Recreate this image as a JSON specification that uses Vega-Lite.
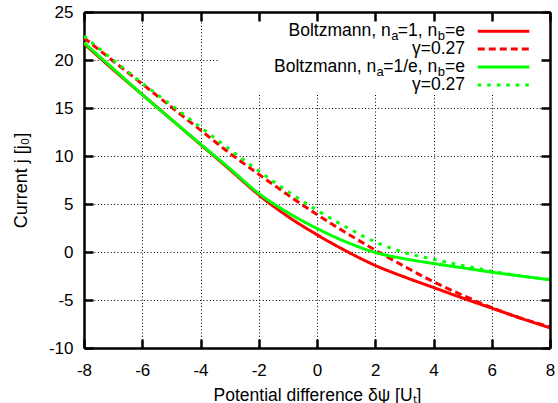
{
  "$schema": "https://vega.github.io/schema/vega-lite/v6.json",
  "width": 466,
  "height": 336,
  "autosize": {"type": "none"},
  "padding": {"left": 84, "top": 12, "right": 8, "bottom": 55},
  "background": "white",
  "config": {
    "view": {"stroke": null},
    "font": "Liberation Sans",
    "axis": {
      "domainColor": "#000",
      "domainWidth": 2.5,
      "tickColor": "#000",
      "tickWidth": 2.5,
      "tickSize": -9,
      "labelColor": "#000",
      "labelFont": "Liberation Sans",
      "labelFontSize": 17,
      "labelFlush": false,
      "labelOverlap": false,
      "titleColor": "#000",
      "titleFont": "Liberation Sans",
      "titleFontSize": 17.5,
      "titleFontWeight": "normal",
      "gridColor": "#000",
      "gridDash": [1, 2.3],
      "gridWidth": 1,
      "gridOpacity": 1
    }
  },
  "datasets": {
    "curves": [
      {"series": "Boltzmann na=1", "x": -8, "j": 21.7},
      {"series": "Boltzmann na=1", "x": -7, "j": 19.0},
      {"series": "Boltzmann na=1", "x": -6, "j": 16.4},
      {"series": "Boltzmann na=1", "x": -5, "j": 13.8},
      {"series": "Boltzmann na=1", "x": -4, "j": 11.2},
      {"series": "Boltzmann na=1", "x": -3, "j": 8.6},
      {"series": "Boltzmann na=1", "x": -2, "j": 5.95},
      {"series": "Boltzmann na=1", "x": -1, "j": 3.7},
      {"series": "Boltzmann na=1", "x": 0, "j": 1.8},
      {"series": "Boltzmann na=1", "x": 1, "j": 0.1},
      {"series": "Boltzmann na=1", "x": 2, "j": -1.4},
      {"series": "Boltzmann na=1", "x": 3, "j": -2.6},
      {"series": "Boltzmann na=1", "x": 4, "j": -3.7},
      {"series": "Boltzmann na=1", "x": 5, "j": -4.8},
      {"series": "Boltzmann na=1", "x": 6, "j": -5.85},
      {"series": "Boltzmann na=1", "x": 7, "j": -6.9},
      {"series": "Boltzmann na=1", "x": 8, "j": -7.9},
      {"series": "gamma na=1", "x": -8, "j": 22.3},
      {"series": "gamma na=1", "x": -7, "j": 19.9},
      {"series": "gamma na=1", "x": -6, "j": 17.5},
      {"series": "gamma na=1", "x": -5, "j": 15.1},
      {"series": "gamma na=1", "x": -4, "j": 12.7},
      {"series": "gamma na=1", "x": -3, "j": 10.3},
      {"series": "gamma na=1", "x": -2, "j": 8.1},
      {"series": "gamma na=1", "x": -1, "j": 5.95},
      {"series": "gamma na=1", "x": 0, "j": 3.9},
      {"series": "gamma na=1", "x": 1, "j": 2.0},
      {"series": "gamma na=1", "x": 2, "j": 0.2},
      {"series": "gamma na=1", "x": 3, "j": -1.5},
      {"series": "gamma na=1", "x": 4, "j": -3.1},
      {"series": "gamma na=1", "x": 5, "j": -4.5},
      {"series": "gamma na=1", "x": 6, "j": -5.8},
      {"series": "gamma na=1", "x": 7, "j": -6.9},
      {"series": "gamma na=1", "x": 8, "j": -7.8},
      {"series": "Boltzmann na=1/e", "x": -8, "j": 21.8},
      {"series": "Boltzmann na=1/e", "x": -7, "j": 19.1},
      {"series": "Boltzmann na=1/e", "x": -6, "j": 16.4},
      {"series": "Boltzmann na=1/e", "x": -5, "j": 13.8},
      {"series": "Boltzmann na=1/e", "x": -4, "j": 11.25},
      {"series": "Boltzmann na=1/e", "x": -3, "j": 8.7},
      {"series": "Boltzmann na=1/e", "x": -2, "j": 6.1},
      {"series": "Boltzmann na=1/e", "x": -1, "j": 4.1},
      {"series": "Boltzmann na=1/e", "x": 0, "j": 2.45},
      {"series": "Boltzmann na=1/e", "x": 1, "j": 1.05},
      {"series": "Boltzmann na=1/e", "x": 2, "j": -0.05},
      {"series": "Boltzmann na=1/e", "x": 3, "j": -0.7},
      {"series": "Boltzmann na=1/e", "x": 4, "j": -1.2},
      {"series": "Boltzmann na=1/e", "x": 5, "j": -1.65},
      {"series": "Boltzmann na=1/e", "x": 6, "j": -2.1},
      {"series": "Boltzmann na=1/e", "x": 7, "j": -2.5},
      {"series": "Boltzmann na=1/e", "x": 8, "j": -2.9},
      {"series": "gamma na=1/e", "x": -8, "j": 22.5},
      {"series": "gamma na=1/e", "x": -7, "j": 20.0},
      {"series": "gamma na=1/e", "x": -6, "j": 17.6},
      {"series": "gamma na=1/e", "x": -5, "j": 15.3},
      {"series": "gamma na=1/e", "x": -4, "j": 13.0},
      {"series": "gamma na=1/e", "x": -3, "j": 10.7},
      {"series": "gamma na=1/e", "x": -2, "j": 8.45},
      {"series": "gamma na=1/e", "x": -1, "j": 6.3},
      {"series": "gamma na=1/e", "x": 0, "j": 4.35},
      {"series": "gamma na=1/e", "x": 1, "j": 2.6},
      {"series": "gamma na=1/e", "x": 2, "j": 1.05},
      {"series": "gamma na=1/e", "x": 3, "j": -0.05},
      {"series": "gamma na=1/e", "x": 4, "j": -0.75},
      {"series": "gamma na=1/e", "x": 5, "j": -1.4},
      {"series": "gamma na=1/e", "x": 6, "j": -2.0},
      {"series": "gamma na=1/e", "x": 7, "j": -2.5},
      {"series": "gamma na=1/e", "x": 8, "j": -2.85}
    ]
  },
  "layer": [
    {
      "data": {"name": "curves"},
      "mark": {"type": "line", "strokeWidth": 3, "interpolate": "monotone", "clip": true, "strokeCap": "butt"},
      "encoding": {
        "x": {
          "field": "x", "type": "quantitative",
          "scale": {"domain": [-8, 8], "nice": false, "zero": false},
          "axis": {
            "orient": "bottom", "values": [-8, -6, -4, -2, 0, 2, 4, 6, 8],
            "labelExpr": "'' + datum.value", "grid": true, "zindex": 0,
            "labelPadding": 23, "title": "Potential difference δψ [Uₜ]", "titlePadding": 8
          }
        },
        "y": {
          "field": "j", "type": "quantitative",
          "scale": {"domain": [-10, 25], "nice": false, "zero": false},
          "axis": {
            "orient": "left", "values": [-10, -5, 0, 5, 10, 15, 20, 25],
            "labelExpr": "'' + datum.value", "grid": true, "zindex": 0,
            "labelPadding": 20, "title": "Current j [j₀]", "titlePadding": 18, "titleFontSize": 18
          }
        },
        "color": {
          "field": "series", "type": "nominal", "legend": null,
          "scale": {
            "domain": ["Boltzmann na=1", "gamma na=1", "Boltzmann na=1/e", "gamma na=1/e"],
            "range": ["#ff0000", "#ff0000", "#00ff00", "#00ff00"]
          }
        },
        "strokeDash": {
          "field": "series", "type": "nominal", "legend": null,
          "scale": {
            "domain": ["Boltzmann na=1", "gamma na=1", "Boltzmann na=1/e", "gamma na=1/e"],
            "range": [[1, 0], [7, 4], [1, 0], [3.5, 6]]
          }
        }
      }
    },
    {
      "data": {"values": [{}]},
      "mark": {"type": "rect", "fill": "white"},
      "encoding": {
        "x": {
          "datum": -3.4, "type": "quantitative",
          "scale": {"domain": [-8, 8], "nice": false, "zero": false},
          "axis": {"orient": "top", "values": [-8, -6, -4, -2, 0, 2, 4, 6, 8], "labels": false, "grid": false, "title": null, "zindex": 1}
        },
        "x2": {"datum": 8},
        "y": {
          "datum": 16.6, "type": "quantitative",
          "scale": {"domain": [-10, 25], "nice": false, "zero": false},
          "axis": {"orient": "right", "values": [-10, -5, 0, 5, 10, 15, 20, 25], "labels": false, "grid": false, "title": null, "zindex": 1}
        },
        "y2": {"datum": 25}
      }
    },
    {
      "data": {"values": [{}]},
      "mark": {"type": "rule", "color": "#ff0000", "strokeWidth": 3, "strokeCap": "butt"},
      "encoding": {
        "x": {"datum": 5.52, "type": "quantitative", "axis": null},
        "x2": {"datum": 7.29},
        "y": {"datum": 23.0, "type": "quantitative", "axis": null}
      }
    },
    {
      "data": {"values": [{}]},
      "mark": {"type": "rule", "color": "#ff0000", "strokeWidth": 3, "strokeDash": [7, 4], "strokeCap": "butt"},
      "encoding": {
        "x": {"datum": 5.52, "type": "quantitative", "axis": null},
        "x2": {"datum": 7.29},
        "y": {"datum": 21.15, "type": "quantitative", "axis": null}
      }
    },
    {
      "data": {"values": [{}]},
      "mark": {"type": "rule", "color": "#00ff00", "strokeWidth": 3, "strokeCap": "butt"},
      "encoding": {
        "x": {"datum": 5.52, "type": "quantitative", "axis": null},
        "x2": {"datum": 7.29},
        "y": {"datum": 19.27, "type": "quantitative", "axis": null}
      }
    },
    {
      "data": {"values": [{}]},
      "mark": {"type": "rule", "color": "#00ff00", "strokeWidth": 3, "strokeDash": [3.5, 6], "strokeCap": "butt"},
      "encoding": {
        "x": {"datum": 5.52, "type": "quantitative", "axis": null},
        "x2": {"datum": 7.29},
        "y": {"datum": 17.4, "type": "quantitative", "axis": null}
      }
    },
    {
      "data": {"values": [{}]},
      "mark": {"type": "text", "text": "Boltzmann, n", "align": "right", "baseline": "middle", "fontSize": 17.5, "font": "Liberation Sans", "color": "#000"},
      "encoding": {"x": {"datum": 2.53, "type": "quantitative", "axis": null}, "y": {"datum": 23.0, "type": "quantitative", "axis": null}}
    },
    {
      "data": {"values": [{}]},
      "mark": {"type": "text", "text": "a", "align": "right", "baseline": "middle", "fontSize": 13, "dy": 5, "font": "Liberation Sans", "color": "#000"},
      "encoding": {"x": {"datum": 2.795, "type": "quantitative", "axis": null}, "y": {"datum": 23.0, "type": "quantitative", "axis": null}}
    },
    {
      "data": {"values": [{}]},
      "mark": {"type": "text", "text": "=1, n", "align": "right", "baseline": "middle", "fontSize": 17.5, "font": "Liberation Sans", "color": "#000"},
      "encoding": {"x": {"datum": 4.13, "type": "quantitative", "axis": null}, "y": {"datum": 23.0, "type": "quantitative", "axis": null}}
    },
    {
      "data": {"values": [{}]},
      "mark": {"type": "text", "text": "b", "align": "right", "baseline": "middle", "fontSize": 13, "dy": 5, "font": "Liberation Sans", "color": "#000"},
      "encoding": {"x": {"datum": 4.397, "type": "quantitative", "axis": null}, "y": {"datum": 23.0, "type": "quantitative", "axis": null}}
    },
    {
      "data": {"values": [{}]},
      "mark": {"type": "text", "text": "=e", "align": "right", "baseline": "middle", "fontSize": 17.5, "font": "Liberation Sans", "color": "#000"},
      "encoding": {"x": {"datum": 5.08, "type": "quantitative", "axis": null}, "y": {"datum": 23.0, "type": "quantitative", "axis": null}}
    },
    {
      "data": {"values": [{}]},
      "mark": {"type": "text", "text": "γ=0.27", "align": "right", "baseline": "middle", "fontSize": 17.5, "font": "Liberation Sans", "color": "#000"},
      "encoding": {"x": {"datum": 5.08, "type": "quantitative", "axis": null}, "y": {"datum": 21.15, "type": "quantitative", "axis": null}}
    },
    {
      "data": {"values": [{}]},
      "mark": {"type": "text", "text": "Boltzmann,  n", "align": "right", "baseline": "middle", "fontSize": 17.5, "font": "Liberation Sans", "color": "#000"},
      "encoding": {"x": {"datum": 2.03, "type": "quantitative", "axis": null}, "y": {"datum": 19.27, "type": "quantitative", "axis": null}}
    },
    {
      "data": {"values": [{}]},
      "mark": {"type": "text", "text": "a", "align": "right", "baseline": "middle", "fontSize": 13, "dy": 5, "font": "Liberation Sans", "color": "#000"},
      "encoding": {"x": {"datum": 2.294, "type": "quantitative", "axis": null}, "y": {"datum": 19.27, "type": "quantitative", "axis": null}}
    },
    {
      "data": {"values": [{}]},
      "mark": {"type": "text", "text": "=1/e, n", "align": "right", "baseline": "middle", "fontSize": 17.5, "font": "Liberation Sans", "color": "#000"},
      "encoding": {"x": {"datum": 4.13, "type": "quantitative", "axis": null}, "y": {"datum": 19.27, "type": "quantitative", "axis": null}}
    },
    {
      "data": {"values": [{}]},
      "mark": {"type": "text", "text": "b", "align": "right", "baseline": "middle", "fontSize": 13, "dy": 5, "font": "Liberation Sans", "color": "#000"},
      "encoding": {"x": {"datum": 4.397, "type": "quantitative", "axis": null}, "y": {"datum": 19.27, "type": "quantitative", "axis": null}}
    },
    {
      "data": {"values": [{}]},
      "mark": {"type": "text", "text": "=e", "align": "right", "baseline": "middle", "fontSize": 17.5, "font": "Liberation Sans", "color": "#000"},
      "encoding": {"x": {"datum": 5.08, "type": "quantitative", "axis": null}, "y": {"datum": 19.27, "type": "quantitative", "axis": null}}
    },
    {
      "data": {"values": [{}]},
      "mark": {"type": "text", "text": "γ=0.27", "align": "right", "baseline": "middle", "fontSize": 17.5, "font": "Liberation Sans", "color": "#000"},
      "encoding": {"x": {"datum": 5.08, "type": "quantitative", "axis": null}, "y": {"datum": 17.4, "type": "quantitative", "axis": null}}
    }
  ]
}
